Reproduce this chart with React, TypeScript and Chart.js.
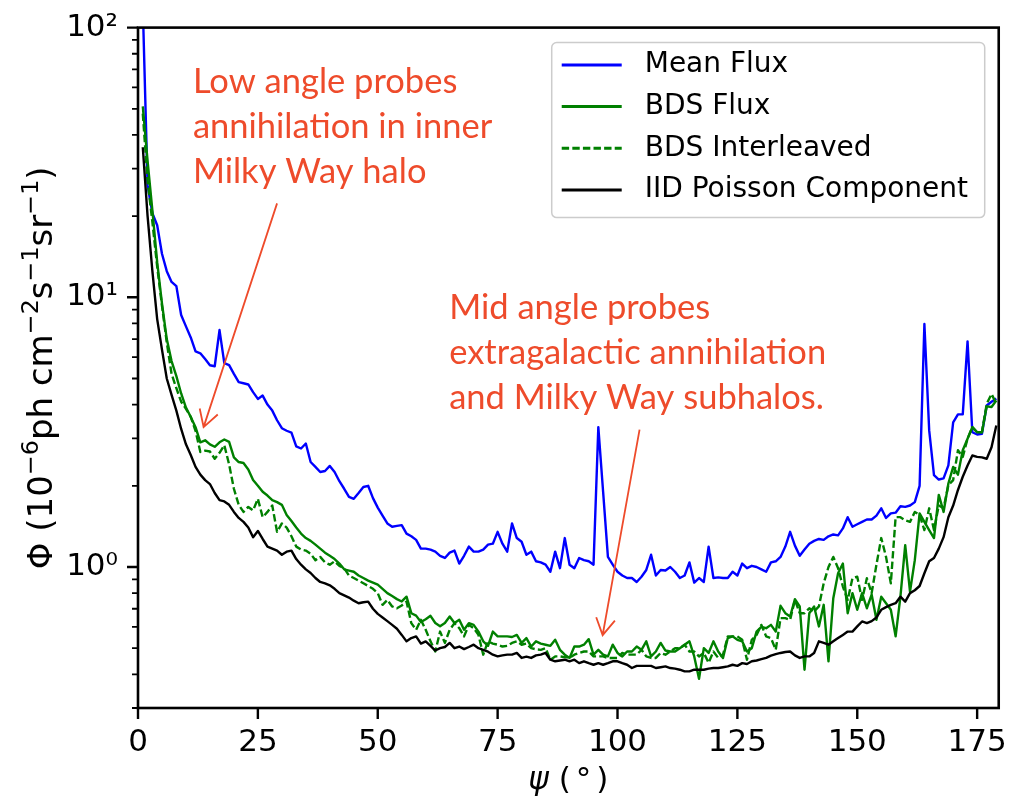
import React, { useEffect, useRef } from 'react';
import { Chart, registerables } from 'chart.js';

Chart.register(...registerables);

// ---- data (angle bins in degrees) ----
const angles: number[] = Array.from({ length: 179 }, (_, i) => i + 1);

const meanFlux: number[] = [
  120, 26, 20.5, 18.5, 14.5, 12.5, 11.4, 11.0, 8.6, 7.8,
  7.1, 6.3, 6.2, 5.9, 5.6, 5.55, 7.56, 5.7, 5.6, 5.2,
  4.85, 4.8, 4.75, 4.45, 4.2, 4.32, 4.0, 3.8, 3.5, 3.27,
  3.2, 3.15, 2.8, 2.75, 2.87, 2.45, 2.35, 2.25, 2.27, 2.37,
  2.25, 2.08, 1.95, 1.82, 1.79, 1.88, 1.98, 2.0, 1.8, 1.66,
  1.55, 1.45, 1.41, 1.42, 1.43, 1.33, 1.3, 1.26, 1.17, 1.17,
  1.16, 1.14, 1.10, 1.08, 1.13, 1.15, 1.03, 1.1, 1.19, 1.14,
  1.14, 1.16, 1.21, 1.22, 1.35, 1.22, 1.14, 1.45, 1.28, 1.24,
  1.11, 1.14, 1.05, 1.04, 1.02, 0.96, 1.14, 0.99, 1.28, 1.02,
  0.99, 1.08, 1.06, 1.05, 1.02, 3.3, 1.9, 1.09, 1.02, 0.96,
  0.93, 0.91, 0.91, 0.88, 0.92, 0.975, 1.11, 0.93, 0.975, 0.97,
  1.0, 0.96, 0.91, 0.93, 1.04, 0.875, 0.91, 0.88, 1.19, 0.91,
  0.915, 0.91, 0.91, 0.96, 0.93, 1.03, 0.99, 1.01, 1.0, 0.98,
  0.96, 1.04, 1.05, 1.09, 1.19, 1.35, 1.2, 1.10, 1.16, 1.22,
  1.25, 1.27, 1.26, 1.30, 1.32, 1.31, 1.39, 1.53, 1.41, 1.44,
  1.47, 1.50, 1.50, 1.55, 1.65, 1.52, 1.58, 1.59, 1.68, 1.67,
  1.69, 1.74, 2.0, 7.96, 3.21, 2.19, 2.11, 2.13, 2.38, 3.44,
  3.68, 3.68, 6.86, 3.16, 3.10, 3.12, 3.97, 4.1, 4.21,
];

const bdsFlux: number[] = [
  51, 32, 21, 13.5, 9.5, 7.0, 5.8, 5.1, 4.4, 3.9,
  3.6, 3.3, 2.9, 2.95, 2.85, 2.79, 2.9, 2.97, 2.91, 2.55,
  2.45, 2.43, 2.3, 2.1, 2.0, 1.9, 1.84, 1.77, 1.74, 1.70,
  1.56, 1.48, 1.40, 1.33, 1.28, 1.25, 1.21, 1.17, 1.13, 1.10,
  1.07, 1.03, 0.98, 0.97, 0.96, 0.93, 0.91, 0.89, 0.875, 0.86,
  0.83, 0.8, 0.78, 0.76, 0.745, 0.776, 0.674, 0.66, 0.625, 0.64,
  0.659, 0.62, 0.603, 0.62, 0.655, 0.62, 0.637, 0.585, 0.619, 0.61,
  0.576, 0.53, 0.51, 0.576, 0.553, 0.553, 0.553, 0.55, 0.56, 0.523,
  0.545, 0.507, 0.53, 0.52, 0.515, 0.51, 0.537, 0.493, 0.473, 0.46,
  0.507, 0.507, 0.515, 0.54, 0.473, 0.493, 0.473, 0.466, 0.515, 0.48,
  0.466, 0.486, 0.486, 0.507, 0.493, 0.53, 0.466, 0.486, 0.523, 0.49,
  0.486, 0.486, 0.5, 0.515, 0.53, 0.466, 0.385, 0.5, 0.48, 0.53,
  0.486, 0.46, 0.545, 0.553, 0.537, 0.53, 0.486, 0.50, 0.576, 0.60,
  0.593, 0.61, 0.576, 0.718, 0.674, 0.655, 0.76, 0.714, 0.416, 0.674,
  0.714, 0.602, 0.724, 0.447, 0.766, 0.948, 1.03, 0.674, 0.80, 0.694,
  0.80, 0.703, 0.79, 0.637, 0.776, 0.734, 0.694, 0.553, 0.776, 1.205,
  0.81, 1.06, 1.58, 1.47, 1.37, 1.28, 1.85, 1.60, 2.04, 2.35,
  2.2, 2.71, 2.99, 3.30, 3.16, 3.16, 3.94, 3.92, 4.14,
];

const bdsInterleaved: number[] = [
  48, 27, 19, 13, 9.3, 6.8, 5.2, 4.6, 4.1, 3.86,
  3.6, 3.2, 2.67, 2.7, 2.68, 2.52, 2.65, 2.83, 2.4, 1.95,
  1.7, 1.6, 1.67, 1.62, 1.79, 1.53, 1.6, 1.69, 1.35, 1.45,
  1.40, 1.3, 1.19, 1.16, 1.15, 1.12, 1.06, 1.09, 1.04, 1.02,
  1.05, 1.01, 0.99, 0.93, 0.91, 0.89, 0.87, 0.85, 0.83, 0.80,
  0.724, 0.755, 0.714, 0.703, 0.72, 0.744, 0.619, 0.585, 0.637, 0.585,
  0.53, 0.486, 0.576, 0.523, 0.585, 0.619, 0.593, 0.553, 0.61, 0.593,
  0.56, 0.473, 0.53, 0.52, 0.515, 0.507, 0.51, 0.523, 0.53, 0.515,
  0.52, 0.50, 0.495, 0.493, 0.50, 0.453, 0.466, 0.466, 0.463, 0.46,
  0.473, 0.48, 0.486, 0.486, 0.466, 0.466, 0.466, 0.46, 0.46, 0.46,
  0.48, 0.473, 0.473, 0.473, 0.493, 0.466, 0.46, 0.46, 0.48, 0.473,
  0.486, 0.50, 0.50, 0.515, 0.486, 0.486, 0.466, 0.48, 0.441, 0.486,
  0.46, 0.473, 0.553, 0.553, 0.553, 0.537, 0.453, 0.537, 0.56, 0.61,
  0.553, 0.545, 0.493, 0.646, 0.646, 0.637, 0.755, 0.674, 0.674, 0.703,
  0.684, 0.714, 0.87, 1.0, 1.09, 0.99, 0.846, 0.755, 0.908, 0.92,
  0.755, 0.908, 0.80, 1.02, 1.28, 1.09, 0.87, 1.53, 1.53, 1.49,
  1.47, 1.60, 1.56, 1.37, 1.65, 1.37, 1.69, 1.65, 2.01, 2.10,
  2.71, 2.56, 2.99, 3.30, 3.16, 3.16, 4.03, 4.38, 4.03,
];

const iidPoisson: number[] = [
  36, 20, 12.5, 8.3, 6.4, 5.0, 4.35, 3.8, 3.25, 2.85,
  2.6, 2.35, 2.2, 2.1, 2.03, 1.88, 1.77, 1.75, 1.7, 1.6,
  1.52, 1.47, 1.4, 1.29, 1.36, 1.27, 1.19, 1.17, 1.15, 1.11,
  1.14, 1.15, 1.07, 1.02, 0.98, 0.95, 0.91, 0.88, 0.87, 0.855,
  0.83, 0.8, 0.785, 0.77, 0.75, 0.734, 0.74, 0.744, 0.70, 0.67,
  0.65, 0.63, 0.61, 0.59, 0.56, 0.53, 0.545, 0.553, 0.52, 0.53,
  0.51, 0.49, 0.50, 0.505, 0.523, 0.50, 0.507, 0.496, 0.505, 0.515,
  0.50, 0.493, 0.485, 0.473, 0.466, 0.47, 0.473, 0.473, 0.48, 0.46,
  0.465, 0.46, 0.47, 0.473, 0.48, 0.453, 0.447, 0.45, 0.453, 0.447,
  0.453, 0.44, 0.447, 0.44, 0.434, 0.44, 0.434, 0.44, 0.447, 0.447,
  0.44, 0.434, 0.422, 0.43, 0.43, 0.43, 0.43, 0.422, 0.425, 0.428,
  0.422, 0.42, 0.416, 0.41, 0.41, 0.416, 0.416, 0.416, 0.42, 0.422,
  0.422, 0.425, 0.428, 0.434, 0.43, 0.44, 0.437, 0.447, 0.45, 0.455,
  0.46, 0.469, 0.475, 0.48, 0.484, 0.486, 0.47, 0.46, 0.466, 0.466,
  0.48, 0.53, 0.523, 0.515, 0.53, 0.545, 0.56, 0.576, 0.576, 0.602,
  0.628, 0.619, 0.63, 0.65, 0.694, 0.71, 0.724, 0.734, 0.776, 0.744,
  0.80, 0.82, 0.85, 0.948, 1.05, 1.08, 1.17, 1.29, 1.53, 1.69,
  1.93, 2.16, 2.38, 2.59, 2.56, 2.55, 2.52, 2.78, 3.35,
];

const seriesLabels: string[] = ['Mean Flux', 'BDS Flux', 'BDS Interleaved', 'IID Poisson Component'];
const seriesColors: string[] = ['#0000ff', '#008000', '#008000', '#000000'];
const seriesDashes: number[][] = [[], [], [7.4, 3.2], []];

const xTicks: number[] = [0, 25, 50, 75, 100, 125, 150, 175];
const yMajorTicks: number[] = [1, 10, 100];
const yMinorTicks: number[] = [0.3, 0.4, 0.5, 0.6, 0.7, 0.8, 0.9, 2, 3, 4, 5, 6, 7, 8, 9, 20, 30, 40, 50, 60, 70, 80, 90];
const yTickLabels: Record<string, string> = { '1': '10⁰', '10': '10¹', '100': '10²' };

const annotLowLines: string[] = ['Low angle probes', 'annihilation in inner', 'Milky Way halo'];
const annotMidLines: string[] = ['Mid angle probes', 'extragalactic annihilation', 'and Milky Way subhalos.'];
// anchors in data coordinates [angle, flux]
const annotLowAnchor: number[] = [11.45, 57.0];
const annotMidAnchor: number[] = [64.9, 8.32];
const arrowLow: number[][] = [[29.0, 22.3], [13.68, 3.30]];
const arrowMid: number[][] = [[104.6, 3.23], [96.9, 0.559]];

const W = 1012;
const H = 797;
const FONT = '"DejaVu Sans", sans-serif';
const RED = '#EE4B2B';

type Run = { t: string; sup?: boolean; italic?: boolean; gap?: number };

function runsWidth(ctx: CanvasRenderingContext2D, runs: Run[], size: number) {
  let w = 0;
  for (const r of runs) {
    const s = r.sup ? size * 0.7 : size;
    ctx.font = `${r.italic ? 'italic ' : ''}${s}px ${FONT}`;
    w += ctx.measureText(r.t).width + (r.gap || 0);
  }
  return w;
}

function drawRuns(ctx: CanvasRenderingContext2D, runs: Run[], x: number, y: number, size: number) {
  let cx = x;
  for (const r of runs) {
    const s = r.sup ? size * 0.7 : size;
    ctx.font = `${r.italic ? 'italic ' : ''}${s}px ${FONT}`;
    ctx.fillText(r.t, cx, r.sup ? y - size * 0.42 : y);
    cx += ctx.measureText(r.t).width + (r.gap || 0);
  }
}

const decorPlugin = {
  id: 'decor',
  afterDatasetsDraw(chart: any) {
    const { ctx, chartArea } = chart;
    const { left, right, top, bottom } = chartArea;
    const xs = chart.scales.x;
    const ys = chart.scales.y;
    ctx.save();
    ctx.strokeStyle = '#000';
    ctx.lineWidth = 2.6;
    ctx.strokeRect(left, top, right - left, bottom - top);
    ctx.lineWidth = 2.4;
    ctx.beginPath();
    for (const v of xTicks) {
      const px = xs.getPixelForValue(v);
      ctx.moveTo(px, bottom);
      ctx.lineTo(px, bottom + 11);
    }
    for (const v of yMajorTicks) {
      const py = ys.getPixelForValue(v);
      ctx.moveTo(left, py);
      ctx.lineTo(left - 11, py);
    }
    ctx.stroke();
    ctx.lineWidth = 1.8;
    ctx.beginPath();
    for (const v of yMinorTicks) {
      const py = ys.getPixelForValue(v);
      ctx.moveTo(left, py);
      ctx.lineTo(left - 6, py);
    }
    ctx.stroke();
    ctx.restore();
  },
  afterDraw(chart: any) {
    const { ctx, chartArea } = chart;
    const { left, right, top, bottom } = chartArea;
    const xs = chart.scales.x;
    const ys = chart.scales.y;
    ctx.save();

    // x title
    ctx.fillStyle = '#000';
    ctx.textBaseline = 'alphabetic';
    ctx.textAlign = 'left';
    const xRuns: Run[] = [{ t: 'ψ', italic: true, gap: 0 }, { t: ' (', gap: 5 }, { t: '°', gap: 5 }, { t: ')' }];
    const xw = runsWidth(ctx, xRuns, 31);
    drawRuns(ctx, xRuns, (left + right) / 2 - xw / 2, 789, 31);

    // y title
    const yRuns: Run[] = [
      { t: 'Φ (10' }, { t: '−6', sup: true }, { t: 'ph cm' }, { t: '−2', sup: true },
      { t: 's' }, { t: '−1', sup: true }, { t: 'sr' }, { t: '−1', sup: true }, { t: ')' },
    ];
    const ySize = 34;
    const yw = runsWidth(ctx, yRuns, ySize);
    ctx.translate(52, (top + bottom) / 2);
    ctx.rotate(-Math.PI / 2);
    drawRuns(ctx, yRuns, -yw / 2, 0, ySize);
    ctx.setTransform(1, 0, 0, 1, 0, 0);

    // legend
    const lw = 433, lh = 175;
    const lx = right - 14 - lw;
    const ly = top + 15;
    ctx.beginPath();
    (ctx as any).roundRect(lx, ly, lw, lh, 5);
    ctx.fillStyle = 'rgba(255,255,255,0.8)';
    ctx.fill();
    ctx.strokeStyle = '#cccccc';
    ctx.lineWidth = 1.5;
    ctx.stroke();
    ctx.font = `28px ${FONT}`;
    ctx.textBaseline = 'middle';
    chart.data.datasets.forEach((ds: any, i: number) => {
      const ry = ly + 22.3 + i * 41.7;
      ctx.beginPath();
      ctx.strokeStyle = ds.borderColor;
      ctx.lineWidth = 3;
      ctx.setLineDash(ds.borderDash || []);
      ctx.moveTo(lx + 10, ry);
      ctx.lineTo(lx + 70, ry);
      ctx.stroke();
      ctx.setLineDash([]);
      ctx.fillStyle = '#000';
      ctx.fillText(ds.label, lx + 93, ry);
    });

    // annotations
    ctx.fillStyle = RED;
    ctx.strokeStyle = RED;
    ctx.font = `34.5px Lato, "Open Sans", sans-serif`;
    ctx.textBaseline = 'alphabetic';
    const drawBlock = (lines: string[], anchor: number[]) => {
      const ax = xs.getPixelForValue(anchor[0]);
      const ay = ys.getPixelForValue(anchor[1]);
      lines.forEach((s, i) => ctx.fillText(s, ax, ay + i * 45));
    };
    drawBlock(annotLowLines, annotLowAnchor);
    drawBlock(annotMidLines, annotMidAnchor);
    const drawArrow = (arr: number[][]) => {
      const x0 = xs.getPixelForValue(arr[0][0]);
      const y0 = ys.getPixelForValue(arr[0][1]);
      const x1 = xs.getPixelForValue(arr[1][0]);
      const y1 = ys.getPixelForValue(arr[1][1]);
      const ang = Math.atan2(y0 - y1, x0 - x1);
      const hl = 19;
      const ha = (30 * Math.PI) / 180;
      ctx.lineWidth = 1.8;
      ctx.beginPath();
      ctx.moveTo(x0, y0);
      ctx.lineTo(x1, y1);
      ctx.moveTo(x1 + hl * Math.cos(ang - ha), y1 + hl * Math.sin(ang - ha));
      ctx.lineTo(x1, y1);
      ctx.lineTo(x1 + hl * Math.cos(ang + ha), y1 + hl * Math.sin(ang + ha));
      ctx.stroke();
    };
    drawArrow(arrowLow);
    drawArrow(arrowMid);
    ctx.restore();
  },
};

export default function App() {
  const ref = useRef<HTMLCanvasElement>(null);
  useEffect(() => {
    const canvas = ref.current!;
    const series = [meanFlux, bdsFlux, bdsInterleaved, iidPoisson];
    const datasets = series.map((vals, i) => ({
      label: seriesLabels[i],
      data: angles.map((a, j) => ({ x: a, y: vals[j] })),
      borderColor: seriesColors[i],
      borderDash: seriesDashes[i],
      borderWidth: 2.4,
      pointRadius: 0,
      fill: false,
      tension: 0,
      borderJoinStyle: 'round' as const,
      order: 4 - i,
    }));
    const chart = new Chart(canvas, {
      type: 'line',
      data: { datasets },
      options: {
        animation: false,
        responsive: false,
        devicePixelRatio: 1,
        layout: { padding: { left: 0, right: 11, top: 26, bottom: 0 } },
        plugins: { legend: { display: false }, tooltip: { enabled: false } },
        scales: {
          x: {
            type: 'linear',
            min: 0,
            max: 179.5,
            afterBuildTicks: (s: any) => { s.ticks = xTicks.map((v) => ({ value: v })); },
            afterFit: (s: any) => { s.height = 89; },
            grid: { display: false, drawTicks: true, tickLength: 11 },
            border: { display: false },
            ticks: {
              autoSkip: false,
              maxRotation: 0,
              padding: 5,
              color: '#000',
              font: { family: 'DejaVu Sans', size: 31 },
              callback: (v: any) => String(v),
            },
          },
          y: {
            type: 'logarithmic',
            min: 0.3,
            max: 100,
            afterBuildTicks: (s: any) => {
              s.ticks = [...yMinorTicks, ...yMajorTicks].sort((a, b) => a - b).map((v) => ({ value: v }));
            },
            afterFit: (s: any) => { s.width = 138; },
            grid: { display: false, drawTicks: true, tickLength: 11 },
            border: { display: false },
            ticks: {
              autoSkip: false,
              padding: 9,
              color: '#000',
              font: { family: 'DejaVu Sans', size: 31 },
              callback: (v: any) => yTickLabels[String(v)] ?? '',
            },
          },
        },
      },
      plugins: [decorPlugin],
    } as any);
    return () => chart.destroy();
  }, []);
  return (
    <div style={{ position: 'absolute', left: 0, top: 0, width: W, height: H, background: '#fff' }}>
      <canvas ref={ref} width={W} height={H} style={{ display: 'block', width: W, height: H }} />
    </div>
  );
}
